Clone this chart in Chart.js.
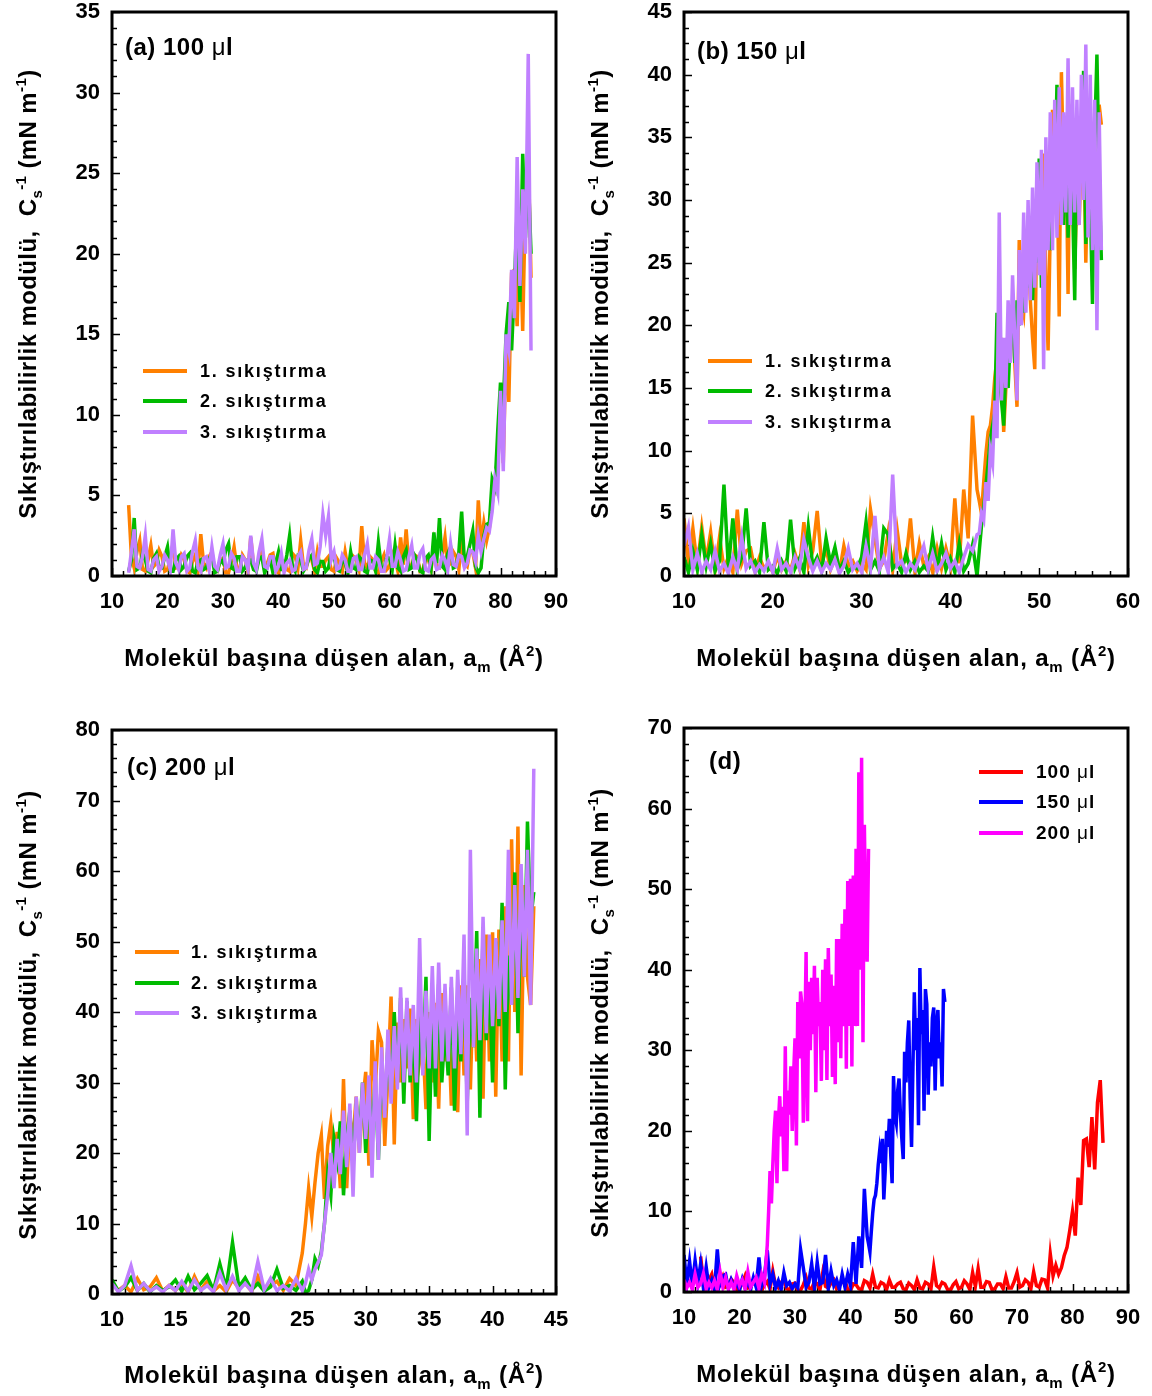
<!DOCTYPE html>
<html>
<head>
<meta charset="utf-8">
<script src="https://cdn.jsdelivr.net/npm/chart.js@4/dist/chart.umd.min.js"></script>
<style>
  body { margin: 0; background: #fff; }
  #wrap { position: relative; width: 1152px; height: 1396px; background: #fff; overflow: hidden;
          font-family: 'Liberation Sans', Arial, sans-serif; font-weight: bold; color: #000; }
  canvas { position: absolute; }
  .ytitle, .xtitle, .plabel, .ltxt { position: absolute; white-space: nowrap; }
  .ytitle { font-size: 24px; letter-spacing: 0.4px; transform: translate(-50%, -50%) rotate(-90deg); }
  .xtitle { font-size: 24px; letter-spacing: 0.8px; transform: translate(-50%, -50%); }
  .plabel { font-size: 24px; letter-spacing: 0.5px; transform: translateY(-50%); }
  .ltxt { font-size: 18px; letter-spacing: 1.8px; transform: translateY(-50%); }
  .ltxt.d { font-size: 19px; letter-spacing: 1px; }
  .sw { position: absolute; width: 44px; height: 4px; margin-top: -2px; }
  sub, sup { font-size: 15px; line-height: 0; position: relative; vertical-align: baseline; }
  sub { top: 6px; }
  sup { top: -10px; }
  .mu { font-weight: normal; }
</style>
</head>
<body>
<div id="wrap">
  <canvas id="ca" width="586" height="664" style="left:0;top:-18px"></canvas>
  <canvas id="cb" width="586" height="664" style="left:572px;top:-18px"></canvas>
  <canvas id="cc" width="586" height="664" style="left:0;top:700px"></canvas>
  <canvas id="cd" width="586" height="664" style="left:572px;top:698px"></canvas>

  <div class="ytitle" style="left:28px;top:294px">Sıkıştırılabilirlik modülü,&nbsp; C<sub>s</sub><sup>-1</sup> (mN m<sup>-1</sup>)</div>
  <div class="ytitle" style="left:600px;top:294px">Sıkıştırılabilirlik modülü,&nbsp; C<sub>s</sub><sup>-1</sup> (mN m<sup>-1</sup>)</div>
  <div class="ytitle" style="left:28px;top:1015px">Sıkıştırılabilirlik modülü,&nbsp; C<sub>s</sub><sup>-1</sup> (mN m<sup>-1</sup>)</div>
  <div class="ytitle" style="left:600px;top:1013px">Sıkıştırılabilirlik modülü,&nbsp; C<sub>s</sub><sup>-1</sup> (mN m<sup>-1</sup>)</div>

  <div class="xtitle" style="left:334px;top:658px">Molekül başına düşen alan, a<sub>m</sub> (Å<sup>2</sup>)</div>
  <div class="xtitle" style="left:906px;top:658px">Molekül başına düşen alan, a<sub>m</sub> (Å<sup>2</sup>)</div>
  <div class="xtitle" style="left:334px;top:1375px">Molekül başına düşen alan, a<sub>m</sub> (Å<sup>2</sup>)</div>
  <div class="xtitle" style="left:906px;top:1374px">Molekül başına düşen alan, a<sub>m</sub> (Å<sup>2</sup>)</div>

  <div class="plabel" style="left:125px;top:47px">(a) 100 <span class="mu">μ</span>l</div>
  <div class="plabel" style="left:697px;top:51px">(b) 150 <span class="mu">μ</span>l</div>
  <div class="plabel" style="left:127px;top:767px">(c) 200 <span class="mu">μ</span>l</div>
  <div class="plabel" style="left:709px;top:761px">(d)</div>

  <!-- legend (a) -->
  <div class="sw" style="left:143px;top:371px;background:#FF8000"></div>
  <div class="sw" style="left:143px;top:401px;background:#00BB00"></div>
  <div class="sw" style="left:143px;top:432px;background:#C080FF"></div>
  <div class="ltxt" style="left:200px;top:371px">1. sıkıştırma</div>
  <div class="ltxt" style="left:200px;top:401px">2. sıkıştırma</div>
  <div class="ltxt" style="left:200px;top:432px">3. sıkıştırma</div>
  <!-- legend (b) -->
  <div class="sw" style="left:708px;top:361px;background:#FF8000"></div>
  <div class="sw" style="left:708px;top:391px;background:#00BB00"></div>
  <div class="sw" style="left:708px;top:422px;background:#C080FF"></div>
  <div class="ltxt" style="left:765px;top:361px">1. sıkıştırma</div>
  <div class="ltxt" style="left:765px;top:391px">2. sıkıştırma</div>
  <div class="ltxt" style="left:765px;top:422px">3. sıkıştırma</div>
  <!-- legend (c) -->
  <div class="sw" style="left:135px;top:952px;background:#FF8000"></div>
  <div class="sw" style="left:135px;top:983px;background:#00BB00"></div>
  <div class="sw" style="left:135px;top:1013px;background:#C080FF"></div>
  <div class="ltxt" style="left:191px;top:952px">1. sıkıştırma</div>
  <div class="ltxt" style="left:191px;top:983px">2. sıkıştırma</div>
  <div class="ltxt" style="left:191px;top:1013px">3. sıkıştırma</div>
  <!-- legend (d) -->
  <div class="sw" style="left:979px;top:772px;background:#FF0000"></div>
  <div class="sw" style="left:979px;top:802px;background:#0000FF"></div>
  <div class="sw" style="left:979px;top:833px;background:#FF00FF"></div>
  <div class="ltxt d" style="left:1036px;top:772px">100 <span class="mu">μ</span>l</div>
  <div class="ltxt d" style="left:1036px;top:802px">150 <span class="mu">μ</span>l</div>
  <div class="ltxt d" style="left:1036px;top:833px">200 <span class="mu">μ</span>l</div>
</div>

<script>
// -------------------
// Data
// -------------------
// (a) 100 µl
const xa = [13,13.5,14,14.5,15,15.5,16,16.5,17,17.5,18,18.5,19,19.5,20,20.5,21,21.5,22,22.5,
  23,23.5,24,24.5,25,25.5,26,26.5,27,27.5,28,28.5,29,29.5,30,30.5,31,31.5,32,32.5,
  33,33.5,34,34.5,35,35.5,36,36.5,37,37.5,38,38.5,39,39.5,40,40.5,41,41.5,42,42.5,
  43,43.5,44,44.5,45,45.5,46,46.5,47,47.5,48,48.5,49,49.5,50,50.5,51,51.5,52,52.5,
  53,53.5,54,54.5,55,55.5,56,56.5,57,57.5,58,58.5,59,59.5,60,60.5,61,61.5,62,62.5,
  63,63.5,64,64.5,65,65.5,66,66.5,67,67.5,68,68.5,69,69.5,70,70.5,71,71.5,72,72.5,
  73,73.5,74,74.5,75,75.5,76,
  76.5,77,77.5,78,78.5,79,79.5,80,80.5,81,81.5,82,82.5,83,83.5,84,84.5,85,85.5];
const a100Comp1 = [4.4,1.2,0.5,1.5,2.2,0.4,0.3,1.0,1.9,0.6,0.8,1.6,1.2,0.3,0.4,1.1,2.0,0.5,0.6,1.3,
  1.0,0.3,0.2,0.9,1.3,0.4,2.6,0.8,0.5,1.2,1.5,0.4,0.3,1.0,1.1,0.2,0.2,0.9,1.8,0.5,
  0.4,1.3,1.0,0.3,2.4,0.7,0.5,1.1,1.5,0.4,0.8,1.3,1.4,0.3,0.2,1.0,0.9,0.4,0.3,1.4,
  1.2,0.5,2.2,0.6,0.5,1.2,1.0,0.3,1.5,0.6,0.6,1.0,1.2,0.4,0.3,1.1,0.8,0.3,1.5,0.5,
  0.4,1.2,1.0,0.4,3.1,0.8,0.5,1.2,1.0,0.3,0.2,0.9,1.3,0.4,0.6,1.4,1.0,0.3,2.4,0.7,
  2.9,0.6,0.6,1.3,1.2,0.3,0.4,1.0,1.0,0.4,1.9,0.5,0.5,1.3,2.4,0.6,0.8,1.5,1.2,0.4,
  2.5,0.8,0.6,1.6,1.5,0.5,4.7,
  2.0,3.3,2.2,3.0,4.5,5.5,7.6,10.0,7.0,14.2,10.8,18.8,19.0,15.5,21.7,15.2,23.5,26.3,18.5];
const a100Comp2 = [0.3,1.0,3.6,0.4,0.5,1.4,1.0,0.3,0.2,1.1,1.4,0.5,0.5,1.2,1.8,0.3,0.3,1.0,1.2,0.4,
  0.6,1.2,1.4,0.3,0.2,0.9,1.0,0.4,0.5,1.1,1.3,0.2,0.3,1.0,0.8,1.6,2.0,0.5,0.4,1.2,
  1.2,0.3,0.5,1.0,1.0,0.4,0.3,1.1,1.2,0.2,0.6,1.0,0.2,0.8,1.5,0.4,0.4,1.3,2.5,0.6,
  0.3,1.2,1.0,0.3,0.6,1.1,1.3,0.4,0.2,0.9,0.9,0.3,0.5,1.4,1.2,0.4,0.3,1.0,0.8,0.2,
  1.5,0.5,0.4,1.2,1.0,0.3,0.2,1.0,0.9,0.3,2.1,0.6,0.4,1.2,1.1,0.4,1.9,0.5,0.3,1.2,
  1.6,0.4,0.5,1.3,1.0,0.3,0.2,1.1,1.3,0.5,2.7,0.8,3.6,0.6,0.4,1.4,1.8,0.5,0.6,1.5,
  4.0,0.9,1.2,2.0,2.8,0.6,0.2,
  0.5,2.5,3.2,3.3,6.0,5.5,9.0,12.0,10.5,15.0,17.0,14.0,18.0,22.7,17.0,26.2,21.0,25.0,20.0];
const a100Comp3 = [0.2,1.5,2.9,0.6,0.5,1.2,2.5,0.4,0.3,1.0,1.2,0.3,0.6,1.3,1.0,0.4,2.9,0.8,0.4,1.2,
  1.4,0.3,0.5,1.5,2.2,0.5,0.3,1.1,1.2,0.4,1.8,0.6,0.4,1.3,2.0,0.5,0.6,1.4,1.1,0.3,
  0.3,1.2,1.0,0.4,2.5,0.8,0.4,1.5,2.3,0.6,0.5,1.2,1.2,0.3,0.6,1.4,0.2,0.8,1.0,0.3,
  0.4,1.2,1.5,0.4,0.5,1.6,2.3,0.7,0.8,1.8,3.8,2.5,3.7,1.0,1.5,0.4,0.5,1.3,1.0,0.3,
  0.3,1.1,1.2,0.4,0.4,1.3,2.0,0.5,0.5,1.2,1.0,0.3,0.3,1.1,2.3,0.6,0.6,1.5,1.0,0.3,
  0.4,1.2,1.9,0.5,0.5,1.4,1.7,0.4,0.3,1.0,1.2,0.4,0.5,1.3,1.0,0.4,2.0,0.7,0.6,1.3,
  1.2,0.5,0.8,1.6,1.5,0.9,2.5,
  1.5,2.3,3.0,2.8,4.0,6.0,5.2,11.5,6.5,15.0,14.0,19.0,16.0,26.0,18.0,24.0,20.0,32.4,14.0];

// (b) 150 µl
const xb = [10,10.5,11,11.5,12,12.5,13,13.5,14,14.5,15,15.5,16,16.5,17,17.5,18,18.5,19,19.5,
  20,20.5,21,21.5,22,22.5,23,23.5,24,24.5,25,25.5,26,26.5,27,27.5,28,28.5,29,29.5,
  30,30.5,31,31.5,32,32.5,33,33.5,34,34.5,35,35.5,36,36.5,37,37.5,38,38.5,39,39.5,
  40,40.5,41,41.5,42,42.5,43,
  43.25,43.5,43.75,44,44.25,44.5,44.75,45,45.25,45.5,45.75,46,46.25,46.5,46.75,47,
  47.25,47.5,47.75,48,48.25,48.5,48.75,49,49.25,49.5,49.75,50,50.25,50.5,50.75,51,
  51.25,51.5,51.75,52,52.25,52.5,52.75,53,53.25,53.5,53.75,54,54.25,54.5,54.75,55,
  55.25,55.5,55.75,56,56.25,56.5,56.75,57];
const b150Comp1 = [4.6,1.0,3.8,0.8,3.9,1.2,3.5,0.5,3.1,0.6,
  1.5,0.3,5.3,1.0,2.0,2.2,0.4,1.5,0.6,1.0,
  0.3,1.6,0.5,1.2,0.4,1.8,0.6,4.3,0.8,2.0,
  5.2,1.0,2.2,0.5,1.4,0.3,2.4,0.8,1.2,0.4,
  1.0,0.5,5.3,3.0,0.6,1.2,3.5,0.5,3.7,1.0,
  1.2,4.6,0.4,2.6,0.8,1.5,0.3,2.2,0.6,2.2,
  0.8,6.2,1.0,6.9,3.0,12.8,6.9,
  6.0,5.0,7.5,9.8, 11.5,12.0,13.5,15.8, 17.5,16.0,19.0,11.5, 15.0,20.0,18.0,21.5,
  17.0,13.5,26.8,22.0, 21.0,25.0,26.5,22.0, 19.0,16.5,29.8,26.0, 31.0,33.7,24.0,18.0,
  28.0,37.2,30.0,34.0, 20.7,40.2,32.0,35.0, 22.5,37.6,35.7,24.5, 31.0,28.0,34.0,35.3,
  25.0,33.0,35.0,29.0, 31.0,25.5,37.6,36.0];
const b150Comp2 = [1.5,0.3,2.0,0.5,3.3,0.8,2.6,0.4,1.2,7.3,
  0.6,4.6,0.5,1.5,5.4,0.8,1.2,0.3,4.3,0.5,
  0.8,0.2,1.2,0.4,4.5,0.6,1.4,0.3,3.9,0.8,
  1.5,0.4,3.0,1.0,2.3,0.5,1.2,0.3,0.8,0.6,
  1.5,4.3,0.5,1.2,0.4,3.8,3.3,0.6,1.0,0.3,
  1.8,0.5,1.2,0.3,0.8,0.4,3.1,0.6,2.6,0.5,
  1.4,0.3,2.6,0.4,1.0,2.5,0.0,
  2.0,4.0,5.5,7.2, 9.0,11.0,12.0,13.0, 21.0,16.0,14.0,12.0, 17.0,15.0,19.0,21.0,
  17.0,22.0,20.0,24.8, 21.0,26.0,23.0,27.8, 22.0,28.0,25.0,33.3, 23.0,29.0,27.0,30.0,
  26.0,33.0,31.0,39.2, 30.0,34.0,28.0,35.7, 27.0,33.0,30.0,22.0, 36.0,31.0,34.0,40.3,
  26.5,33.0,30.0,21.7, 35.0,41.6,32.0,25.2];
const b150Comp3 = [2.4,3.9,0.5,1.8,0.3,1.2,0.5,2.0,0.4,1.0,
  0.2,1.5,0.5,3.1,0.6,1.2,0.3,0.9,0.4,1.2,
  0.3,2.2,0.5,1.0,0.3,1.5,0.6,2.9,1.5,0.4,
  1.2,0.3,1.0,0.5,1.3,0.2,0.8,2.2,0.5,1.0,
  0.3,2.4,0.6,4.8,0.5,1.5,0.3,8.1,0.8,1.2,
  0.3,1.0,0.5,1.4,2.4,0.5,1.8,0.4,1.0,1.8,
  0.6,1.2,0.3,1.5,2.5,2.0,3.3,
  3.4,5.0,4.5,7.5, 6.0,10.0,9.0,14.0, 11.0,29.0,14.0,19.0, 15.0,22.0,17.0,24.0,
  19.0,14.0,26.0,20.0, 29.0,21.0,30.0,22.0, 31.0,23.0,33.0,24.0, 34.0,16.5,35.0,26.0,
  37.0,26.0,38.0,27.0, 39.0,28.0,37.0,29.0, 41.3,28.0,39.0,29.0, 38.0,28.0,40.0,30.0,
  42.4,27.0,40.0,26.0, 38.0,19.6,37.0,26.0];

// (c) 200 µl
const xc = [10,10.5,11,11.5,12,12.5,13,13.5,14,14.5,15,15.5,16,16.5,17,17.5,18,18.5,19,19.5,
  20,20.5,21,21.5,22,22.5,23,23.5,24,24.5,25,
  25.25,25.5,25.75,26,26.25,26.5,26.75,27,27.25,27.5,27.75,28,28.25,28.5,28.75,29,
  29.25,29.5,29.75,30,30.25,30.5,30.75,31,31.25,31.5,31.75,32,32.25,32.5,32.75,33,
  33.25,33.5,33.75,34,34.25,34.5,34.75,35,35.25,35.5,35.75,36,36.25,36.5,36.75,37,
  37.25,37.5,37.75,38,38.25,38.5,38.75,39,39.25,39.5,39.75,40,40.25,40.5,40.75,41,
  41.25,41.5,41.75,42,42.25,42.5,42.75,43,43.25];
const c200Comp1 = [1.5,0.5,1.2,0.3,2.2,0.6,1.0,2.3,0.4,1.2,
  0.5,1.4,0.3,2.5,0.6,1.8,0.4,1.2,0.3,2.0,
  0.8,1.5,0.4,2.5,0.6,1.2,1.8,0.5,2.2,1.2,
  5.8,
  10.0,15.0,11.0,15.8, 20.0,22.5,13.5,21.0, 24.3,19.3,23.0,15.0, 30.5,15.0,25.0,22.0,
  28.0,20.0,27.0,31.5, 18.2,36.0,29.0,37.3, 35.7,21.0,31.0,42.2, 21.2,38.5,30.0,39.0,
  32.0,40.5,24.8,39.0, 33.0,36.0,26.2,40.0, 30.0,41.3,26.3,42.7, 33.0,39.4,26.7,38.0,
  25.8,43.8,31.0,43.8, 29.0,45.7,33.0,47.5, 27.7,51.0,33.0,51.3, 28.0,51.7,33.0,55.0,
  33.0,64.5,40.0,66.3, 31.0,58.0,45.0,41.0, 55.0];
const c200Comp2 = [2.0,0.4,1.0,2.3,0.5,1.5,0.3,1.2,0.5,1.0,
  2.0,0.4,2.5,0.6,1.5,2.6,0.5,4.3,0.8,7.3,
  1.0,2.3,0.6,1.5,0.4,1.0,3.5,0.8,1.2,0.5,
  1.8,
  0.2,0.5,2.0,5.0, 4.0,6.0,10.0,17.0, 14.0,22.0,19.0,24.5, 14.0,22.0,26.0,18.0,
  27.0,22.0,30.0,20.0, 29.0,22.0,31.0,19.0, 32.0,26.0,35.5,28.0, 40.0,30.0,42.0,27.0,
  41.5,30.0,38.0,24.5, 40.0,32.0,45.0,21.7, 40.0,28.0,44.0,30.0, 38.0,31.0,43.5,26.0,
  39.0,33.0,46.0,27.0, 42.0,35.0,51.5,25.0, 52.0,36.0,45.0,30.0, 50.0,38.0,55.5,29.0,
  48.0,41.0,59.8,37.0, 57.0,45.0,67.0,53.0, 57.0];
const c200Comp3 = [1.5,0.3,1.2,4.0,0.5,1.5,0.4,1.0,0.3,1.2,
  0.5,1.8,0.4,2.0,0.5,1.2,0.3,3.0,0.6,2.5,
  0.5,1.5,0.4,4.6,0.6,2.2,0.5,1.2,0.4,2.2,
  0.5,
  1.5,3.5,2.0,3.5, 4.5,5.5,10.0,14.0, 20.0,15.0,22.0,17.0, 26.0,18.0,27.0,13.8,
  28.0,20.0,30.0,22.0, 31.0,16.5,33.0,19.0, 35.0,25.0,37.5,27.0, 38.0,29.0,43.5,30.0,
  42.0,31.0,41.0,30.0, 50.5,31.0,43.0,32.0, 46.5,32.0,47.0,33.0, 44.0,33.0,45.0,32.0,
  46.0,34.0,51.0,22.5, 63.0,35.0,49.0,36.0, 53.5,37.0,51.0,38.0, 50.5,39.0,53.0,40.0,
  63.0,41.0,58.0,42.0, 61.0,45.0,63.0,41.0, 74.5];

// -------------------
// Helpers
// -------------------
const FONT = "'Liberation Sans', Arial, sans-serif";

function pts(xs, ys) {
  return xs.map((x, i) => ({ x: x, y: ys[i] }));
}

function line(xs, ys, color, order) {
  return { data: pts(xs, ys), borderColor: color, borderWidth: 3.5, pointRadius: 0,
           tension: 0, order: order, fill: false };
}

// inner tick marks + heavy frame
const framePlugin = {
  id: 'frame',
  beforeDatasetsDraw(chart, args, opts) {
    const { ctx, chartArea: a, scales } = chart;
    const x = scales.x, y = scales.y;
    const xMaj = x.options.ticks.stepSize, yMaj = y.options.ticks.stepSize;
    ctx.save();
    ctx.strokeStyle = '#000';
    ctx.lineWidth = 1.5;
    for (let v = x.min; v <= x.max + 1e-6; v += opts.xMinor) {
      const px = Math.round(x.getPixelForValue(v)) + 0.5;
      const r = v / xMaj;
      const len = Math.abs(r - Math.round(r)) < 1e-6 ? 8 : 5;
      ctx.beginPath(); ctx.moveTo(px, a.bottom); ctx.lineTo(px, a.bottom - len); ctx.stroke();
    }
    for (let v = y.min; v <= y.max + 1e-6; v += opts.yMinor) {
      const py = Math.round(y.getPixelForValue(v)) + 0.5;
      const r = v / yMaj;
      const len = Math.abs(r - Math.round(r)) < 1e-6 ? 8 : 5;
      ctx.beginPath(); ctx.moveTo(a.left, py); ctx.lineTo(a.left + len, py); ctx.stroke();
    }
    ctx.restore();
  },
  afterDatasetsDraw(chart) {
    const { ctx, chartArea: a } = chart;
    ctx.save();
    ctx.strokeStyle = '#000';
    ctx.lineWidth = 3;
    ctx.strokeRect(a.left, a.top, a.right - a.left, a.bottom - a.top);
    ctx.restore();
  }
};

// plot area is 444 x 564, placed 112 px from the canvas left and 30 px from its top
function panel(id, datasets, xr, yr, minor) {
  const tickFont = { family: FONT, size: 22, weight: 'bold' };
  new Chart(document.getElementById(id), {
    type: 'line',
    data: { datasets: datasets },
    options: {
      responsive: false,
      animation: false,
      devicePixelRatio: 1,
      layout: { padding: { left: 0, top: 30, right: 30, bottom: 30 } },
      plugins: { legend: { display: false }, tooltip: { enabled: false }, frame: minor },
      scales: {
        x: {
          type: 'linear', min: xr[0], max: xr[1],
          grid: { display: false, drawTicks: false }, border: { display: false },
          ticks: { stepSize: xr[2], color: '#000', font: tickFont, padding: 13,
                   maxRotation: 0, autoSkip: false },
          afterFit: s => { s.height = 40; }
        },
        y: {
          type: 'linear', min: yr[0], max: yr[1],
          grid: { display: false, drawTicks: false }, border: { display: false },
          ticks: { stepSize: yr[2], color: '#000', font: tickFont, padding: 12 },
          afterFit: s => { s.width = 112; }
        }
      }
    },
    plugins: [framePlugin]
  });
}

const ORANGE = '#FF8000', GREEN = '#00BB00', LILAC = '#C080FF';

panel('ca', [
  line(xa, a100Comp1, ORANGE, 3),
  line(xa, a100Comp2, GREEN, 2),
  line(xa, a100Comp3, LILAC, 1)
], [10, 90, 10], [0, 35, 5], { xMinor: 2, yMinor: 1 });

panel('cb', [
  line(xb, b150Comp1, ORANGE, 3),
  line(xb, b150Comp2, GREEN, 2),
  line(xb, b150Comp3, LILAC, 1)
], [10, 60, 10], [0, 45, 5], { xMinor: 2, yMinor: 1.25 });

panel('cc', [
  line(xc, c200Comp1, ORANGE, 3),
  line(xc, c200Comp2, GREEN, 2),
  line(xc, c200Comp3, LILAC, 1)
], [10, 45, 5], [0, 80, 10], { xMinor: 1, yMinor: 2 });

// (d) first compression of each volume
panel('cd', [
  line(xa, a100Comp1, '#FF0000', 3),
  line(xb, b150Comp1, '#0000FF', 2),
  line(xc, c200Comp1, '#FF00FF', 1)
], [10, 90, 10], [0, 70, 10], { xMinor: 2, yMinor: 2 });
</script>
</body>
</html>
